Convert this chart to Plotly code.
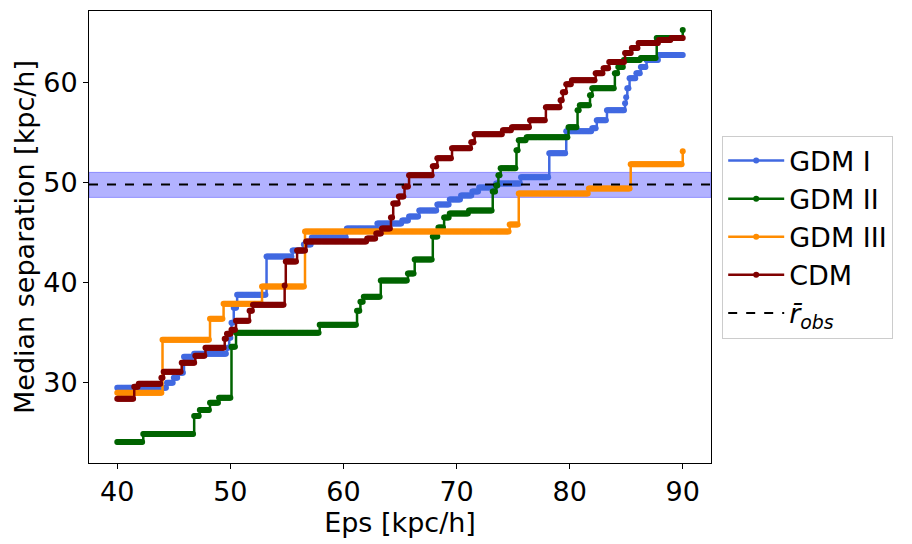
import numpy as np
import plotly.graph_objects as go

# Step data: (eps where value starts, median separation)
GDM1_EPS = [40.0, 44.4, 45.0, 45.4, 45.9, 46.8, 49.7, 49.9, 50.1, 50.3, 50.6, 53.2, 55.5, 56.5, 57.2,
            60.3, 63.0, 65.2, 65.8, 66.7, 68.3, 69.4, 70.4, 71.4, 72.0, 73.5, 75.7, 78.2, 79.7, 82.0,
            82.4, 83.3, 84.9, 85.0, 85.1, 85.3, 85.9, 86.3, 86.8, 87.9]
GDM1_VAL = [29.5, 30.0, 30.5, 31.0, 32.6, 32.9, 33.5, 34.5, 36.0, 37.5, 38.8, 42.6, 43.2, 43.8, 44.5,
            45.4, 45.9, 46.2, 46.6, 47.2, 47.8, 48.3, 48.7, 49.1, 49.5, 49.9, 50.5, 52.9, 55.1, 55.4,
            56.2, 57.2, 57.9, 58.5, 59.4, 60.4, 60.9, 61.5, 62.2, 62.7]

GDM2_EPS = [40.0, 42.3, 46.8, 47.3, 48.2, 49.0, 50.1, 50.5, 57.9, 61.2, 61.5, 61.8, 63.3, 65.7, 66.3,
            67.9, 68.4, 68.9, 69.4, 71.1, 73.2, 73.5, 73.7, 73.9, 75.3, 75.5, 76.2, 79.9, 80.7, 80.9,
            81.8, 82.0, 84.0, 84.3, 84.8, 86.3, 87.7, 90.0]
GDM2_VAL = [24.1, 24.9, 26.7, 27.3, 28.0, 28.5, 33.6, 35.0, 35.8, 37.2, 38.1, 38.6, 40.2, 40.9, 42.3,
            44.6, 45.5, 46.5, 46.9, 47.2, 49.1, 49.7, 50.7, 51.4, 53.2, 54.2, 54.5, 55.5, 57.2, 57.7,
            58.7, 59.4, 60.9, 61.5, 62.2, 62.4, 64.4, 65.2]

GDM3_EPS = [40.0, 44.0, 48.2, 49.4, 52.8, 56.6, 74.7, 75.5, 81.7, 85.4, 90.0]
GDM3_VAL = [29.0, 34.3, 36.4, 37.9, 39.6, 45.1, 45.8, 48.9, 49.4, 51.8, 53.1]

CDM_EPS = [40.0, 41.5, 41.9, 43.9, 44.1, 45.7, 46.9, 47.8, 49.5, 49.7, 50.1, 50.5, 51.7, 52.0, 54.8,
           54.9, 55.9, 56.7, 62.1, 62.9, 63.4, 64.2, 64.4, 64.9, 65.4, 65.8, 67.9, 68.3, 69.6, 71.3,
           71.6, 74.1, 74.9, 76.5, 77.9, 79.2, 79.4, 79.7, 80.2, 82.3, 83.0, 83.5, 84.9, 85.5, 86.1,
           87.9, 89.0]
CDM_VAL = [28.4, 29.6, 29.9, 30.5, 31.1, 32.0, 32.7, 33.5, 34.4, 34.9, 35.3, 36.2, 37.2, 37.8, 39.7,
           42.1, 43.2, 44.1, 44.4, 44.9, 45.4, 46.5, 47.9, 48.6, 49.6, 50.7, 51.6, 52.4, 53.4, 54.0,
           54.8, 55.2, 55.5, 56.2, 57.5, 58.2, 59.0, 59.8, 60.2, 60.9, 61.4, 62.0, 62.9, 63.4, 63.9,
           64.2, 64.4]

R_OBS = 49.8
R_OBS_LO = 48.5
R_OBS_HI = 51.0

X_TICKS = [40, 50, 60, 70, 80, 90]
Y_TICKS = [30, 40, 50, 60]

# Eps sampling grid of the scan
EPS_GRID = np.round(np.arange(40.0, 90.0001, 0.1), 1)


def sample_steps(starts, vals):
    idx = np.searchsorted(np.array(starts), EPS_GRID + 1e-9, side="right") - 1
    return np.array(vals)[idx]


series = [
    ("GDM I", GDM1_EPS, GDM1_VAL, "royalblue"),
    ("GDM II", GDM2_EPS, GDM2_VAL, "darkgreen"),
    ("GDM III", GDM3_EPS, GDM3_VAL, "darkorange"),
    ("CDM", CDM_EPS, CDM_VAL, "maroon"),
]

FONT = "DejaVu Sans"
FS = 27
fig = go.Figure()

for name, ex, vals, col in series:
    fig.add_trace(go.Scatter(
        x=EPS_GRID, y=sample_steps(ex, vals), mode="lines+markers", name=name,
        line=dict(color=col, width=2.5, shape="hv"),
        marker=dict(color=col, size=6),
        legendgroup=name,
    ))

# legend entry for the observed value
fig.add_trace(go.Scatter(
    x=[None], y=[None], mode="lines", name="<i>r\u0304</i><sub><i>obs</i></sub>",
    line=dict(color="black", width=2, dash="dash"), legendgroup="robs",
))

fig.add_shape(type="rect", xref="paper", x0=0, x1=1, yref="y", y0=R_OBS_LO, y1=R_OBS_HI,
              fillcolor="rgba(0,0,255,0.3)", line=dict(color="rgba(0,0,255,0.3)", width=1),
              layer="below")
fig.add_shape(type="line", xref="paper", x0=0, x1=1, yref="y", y0=R_OBS, y1=R_OBS,
              line=dict(color="black", width=2, dash="dash"), layer="above")

axis_common = dict(
    showline=True, linecolor="black", linewidth=1, mirror=True, showgrid=False, zeroline=False,
    ticks="outside", ticklen=5, tickwidth=1, tickcolor="black",
    tickfont=dict(family=FONT, size=FS, color="black"),
)
fig.update_xaxes(range=[37.5, 92.5], tickvals=X_TICKS,
                 title=dict(text="Eps [kpc/h]", font=dict(family=FONT, size=FS, color="black"), standoff=0),
                 **axis_common)
fig.update_yaxes(range=[22.0, 67.1], tickvals=Y_TICKS,
                 title=dict(text="Median separation [kpc/h]", font=dict(family=FONT, size=FS, color="black"), standoff=0),
                 **axis_common)

fig.update_layout(
    width=912, height=544,
    margin=dict(l=81, r=209, t=3, b=89),
    plot_bgcolor="white", paper_bgcolor="white",
    font=dict(family=FONT, color="black"),
    legend=dict(x=1.018, y=0.5, xanchor="left", yanchor="middle",
                font=dict(family=FONT, size=27, color="black"),
                bordercolor="#cccccc", borderwidth=1, tracegroupgap=0, itemwidth=56),
)

fig.write_html("out.html")
